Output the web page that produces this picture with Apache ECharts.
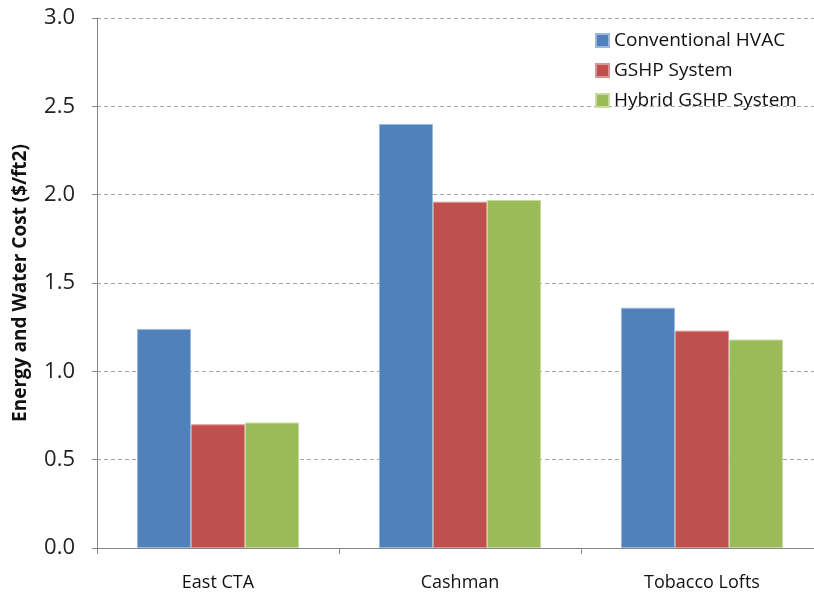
<!DOCTYPE html>
<html>
<head>
<meta charset="utf-8">
<script src="https://cdn.jsdelivr.net/npm/echarts@6/dist/echarts.min.js"></script>
<style>
  html, body { margin: 0; padding: 0; background: #fff; overflow: hidden; }
  /* plot runs a little past the right edge in the reference, so the canvas is wider than the window */
  #chart { width: 823px; height: 597px; }
</style>
</head>
<body>
<div id="chart"></div>
<script>
// data
var categories = ["East CTA", "Cashman", "Tobacco Lofts"];
var conventional = [1.24, 2.40, 1.36];
var gshp = [0.70, 1.96, 1.23];
var hybrid = [0.71, 1.97, 1.18];
var yTicks = [0, 0.5, 1.0, 1.5, 2.0, 2.5, 3.0];

var font = "'Open Sans', 'Noto Sans', sans-serif";
var chart = echarts.init(document.getElementById("chart"));

function barSeries(name, data, color, edge) {
  return {
    name: name,
    type: "bar",
    data: data,
    barGap: "0%",
    barCategoryGap: "33%",
    itemStyle: { color: color, borderColor: edge, borderWidth: 1 }
  };
}

chart.setOption({
  animation: false,
  backgroundColor: "#fff",
  grid: { left: 97, top: 18, right: 0, bottom: 49 },
  legend: {
    orient: "vertical",
    left: 590,
    top: 26,
    itemWidth: 13,
    itemHeight: 13,
    itemGap: 11,
    icon: "rect",
    textStyle: { fontFamily: font, fontSize: 19, color: "#111" },
    data: ["Conventional HVAC", "GSHP System", "Hybrid GSHP System"]
  },
  xAxis: {
    type: "category",
    data: categories,
    axisLine: { lineStyle: { color: "#868686", width: 1 } },
    axisTick: { show: true, length: 6, lineStyle: { color: "#868686" } },
    axisLabel: { fontFamily: font, fontSize: 18, color: "#111", margin: 26 }
  },
  yAxis: {
    type: "value",
    min: yTicks[0],
    max: yTicks[yTicks.length - 1],
    interval: 0.5,
    name: "Energy and Water Cost ($/ft2)",
    nameLocation: "middle",
    nameGap: 67,
    nameTextStyle: { fontFamily: font, fontSize: 19, fontWeight: "bold", color: "#111" },
    axisLine: { show: true, lineStyle: { color: "#868686", width: 1 } },
    axisTick: { show: true, length: 5, lineStyle: { color: "#868686" } },
    axisLabel: {
      fontFamily: font, fontSize: 22, color: "#222", margin: 22,
      formatter: function (v) { return v.toFixed(1); }
    },
    splitLine: { show: true, lineStyle: { color: "#a6a6a6", type: [4, 3], width: 1 } }
  },
  series: [
    barSeries("Conventional HVAC", conventional, "#4F81BD", "#9db8d9"),
    barSeries("GSHP System", gshp, "#C0504D", "#d99593"),
    barSeries("Hybrid GSHP System", hybrid, "#9BBB59", "#c5dba0")
  ]
});
</script>
</body>
</html>
